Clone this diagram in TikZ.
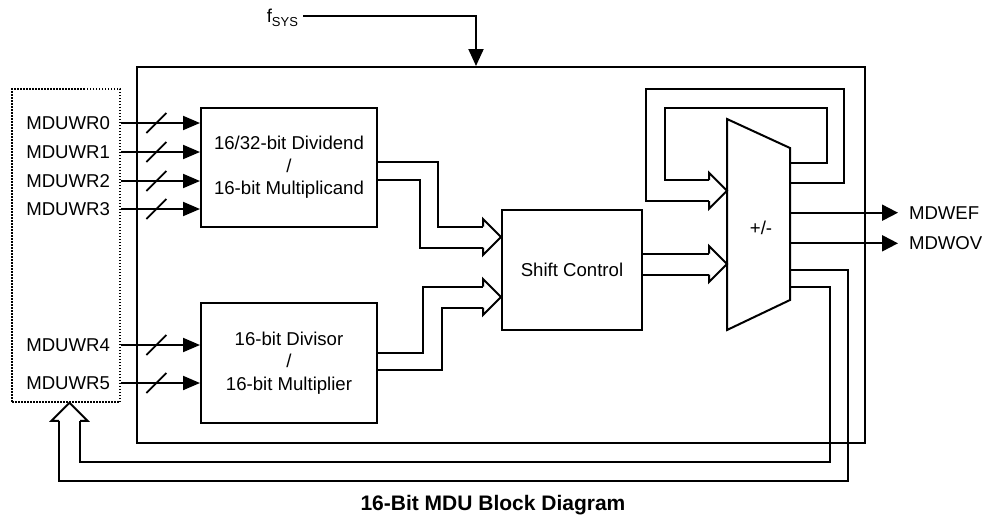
\documentclass[tikz,border=0pt]{standalone}
\usepackage{fontspec}
\setmainfont{Liberation Sans}
\usetikzlibrary{arrows.meta, calc}

\begin{document}
\begin{tikzpicture}[x=1pt, y=-1pt, line width=2pt, >={Triangle[length=17pt, width=14pt]},
  font=\fontsize{18.6}{22.5}\selectfont,
  bloque/.style={rectangle, draw, align=center, inner sep=0pt},
  etiq/.style={inner sep=1pt},
  barra/.pic={\draw[-, line width=1.7pt] (-10,10) -- (10,-10);},
  bushead/.pic={\draw[-, line join=miter] (-18,-10.5) -- (-18,-18) -- (0,0) -- (-18,18) -- (-18,10.5);}]
  \useasboundingbox (0,0) rectangle (984,517);
  \node[bloque, minimum width=728pt, minimum height=376pt] (marco) at (501,255) {};
  \node[bloque, dash pattern=on 1.5pt off 1.5pt, line width=1.5pt, minimum width=108pt, minimum height=313pt] (regs) at (66,245.5) {};
  \node[bloque, minimum width=176pt, minimum height=119pt] (dvd) at (289,167.5) {16/32-bit Dividend\\/\\16-bit Multiplicand};
  \node[bloque, minimum width=176pt, minimum height=120pt] (dvs) at (289,363) {16-bit Divisor\\/\\16-bit Multiplier};
  \node[bloque, minimum width=140pt, minimum height=120pt] (sc) at (572,270) {Shift Control};
  \coordinate (m1) at (727,119);
  \coordinate (m2) at (790,148);
  \coordinate (m3) at (790,300);
  \coordinate (m4) at (727,330);
  \draw (m1) -- (m2) -- (m3) -- (m4) -- cycle;
  \node (mux) at (761,228) {+/-};

  \node[etiq, anchor=east, inner xsep=4pt] (fsys) at (303,18) {f\raisebox{-0.35ex}{\fontsize{13}{13}\selectfont SYS}};
  \coordinate (clk) at (476,16);
  \draw[->, >={Triangle[length=17pt, width=15pt]}] (fsys.east |- clk) -- (clk) -- (clk |- marco.north);

  \foreach \n/\y in {0/123, 1/152, 2/181, 3/209, 4/345, 5/383}
    \node[etiq, anchor=east] (w\n) at (112,\y) {MDUWR\n};
  \foreach \n/\blk in {0/dvd, 1/dvd, 2/dvd, 3/dvd, 4/dvs, 5/dvs} {
    \draw[->] (w\n -| regs.east) -- coordinate[pos=0.45] (b\n) (w\n -| \blk.west);
    \pic at (b\n) {barra};
  }

  \coordinate (tA) at ([yshift=33pt]sc.west);
  \coordinate (tB) at ([yshift=-27pt]sc.west);
  \draw ([yshift=-55pt]dvd.north east) -| ($(tA)+(-63,-10.5)$) -- ($(tA)+(-18,-10.5)$);
  \draw ([yshift=-73pt]dvd.north east) -| ($(tA)+(-81,10.5)$) -- ($(tA)+(-18,10.5)$);
  \pic at (tA) {bushead};
  \draw ([yshift=-51pt]dvs.north east) -| ($(tB)+(-78,-10.5)$) -- ($(tB)+(-18,-10.5)$);
  \draw ([yshift=-68pt]dvs.north east) -| ($(tB)+(-59,10.5)$) -- ($(tB)+(-18,10.5)$);
  \pic at (tB) {bushead};

  \coordinate (tC) at ($(m4)+(0,-66)$);
  \draw (tC -| sc.east) ++(0,-10.5) -- ($(tC)+(-18,-10.5)$);
  \draw (tC -| sc.east) ++(0,10.5) -- ($(tC)+(-18,10.5)$);
  \pic at (tC) {bushead};

  \coordinate (tD) at ($(m1)+(0,71.7)$);
  \draw ($(m2)+(0,15)$) -- ++(37,0) -- ++(0,-55) -| ($(tD)+(-62,-10.5)$) -- ($(tD)+(-18,-10.5)$);
  \draw ($(m2)+(0,35.3)$) -- ++(54,0) -- ++(0,-94) -| ($(tD)+(-81,10.5)$) -- ($(tD)+(-18,10.5)$);
  \pic at (tD) {bushead};

  \node[etiq, anchor=west, inner xsep=10pt] (ef) at (898,212.7) {MDWEF};
  \node[etiq, anchor=west, inner xsep=10pt] (ov) at (898,243.3) {MDWOV};
  \draw[->, >={Triangle[length=16pt, width=16pt]}] (ef -| m2) -- (ef.west);
  \draw[->, >={Triangle[length=16pt, width=16pt]}] (ov -| m2) -- (ov.west);

  \coordinate (tE) at ([xshift=3.5pt]regs.south);
  \draw ($(m3)+(0,-30)$) -- ++(58,0) -- ++(0,211) -| ($(tE)+(-10.5,18)$);
  \draw ($(m3)+(0,-12.7)$) -- ++(40,0) -- ++(0,174.7) -| ($(tE)+(10.5,18)$);
  \pic[rotate=90] at (tE) {bushead};

  \node[font=\fontsize{21}{25}\selectfont\bfseries] (titulo) at (493,505) {16-Bit MDU Block Diagram};
\end{tikzpicture}
\end{document}
